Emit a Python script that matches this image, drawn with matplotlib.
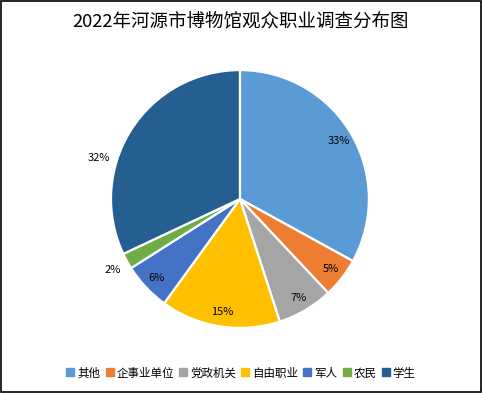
import numpy as np
import matplotlib
matplotlib.use("Agg")
import matplotlib.pyplot as plt
from matplotlib.patches import Rectangle
from matplotlib.lines import Line2D

plt.rcParams["font.family"] = ["Noto Sans CJK SC", "DejaVu Sans"]

# data
categories = ["其他", "企事业单位", "党政机关", "自由职业", "军人", "农民", "学生"]
shares = [33, 5, 7, 15, 6, 2, 32]
colors = ["#5B9BD5", "#ED7D31", "#A5A5A5", "#FFC000", "#4472C4", "#70AD47", "#255E91"]
title = "2022年河源市博物馆观众职业调查分布图"
# labels that Excel pushed outside the pie: (angle deg, radius)
moved = {5: (-151, 1.13), 6: (164, 1.14)}

fig = plt.figure(figsize=(4.82, 3.93), dpi=100)
ax = fig.add_axes([0.2303, 0.1654, 0.535, 0.6565])

wedges, texts, autotexts = ax.pie(
    shares, colors=colors, startangle=90, counterclock=False,
    autopct="%d%%", pctdistance=0.89, radius=1.0,
    wedgeprops=dict(edgecolor="white", linewidth=1.6),
    textprops=dict(fontsize=8, color="#000000"))
for i, (ang, r) in moved.items():
    a = np.deg2rad(ang)
    autotexts[i].set_position((r * np.cos(a), r * np.sin(a)))
ax.set_xlim(-1, 1)
ax.set_ylim(-1, 1)
ax.set_aspect("equal")
ax.axis("off")

fig.text(0.5, 1 - 22 / 393, title, ha="center", va="center",
         fontsize=13.3, color="#000000")

handles = [Line2D([0], [0], marker="s", ls="none", markersize=5.5,
                  markerfacecolor=c, markeredgecolor=c) for c in colors]
fig.legend(handles, categories, loc="center", bbox_to_anchor=(0.5, 1 - 373 / 393),
           ncol=7, frameon=False, fontsize=8.3, handlelength=0.7,
           handletextpad=0.25, columnspacing=0.45)

fig.patches.append(Rectangle((0.002, 0.003), 0.995, 0.994, transform=fig.transFigure,
                             fill=False, edgecolor="black", linewidth=1.2))

fig.savefig("out.png", dpi=100)
